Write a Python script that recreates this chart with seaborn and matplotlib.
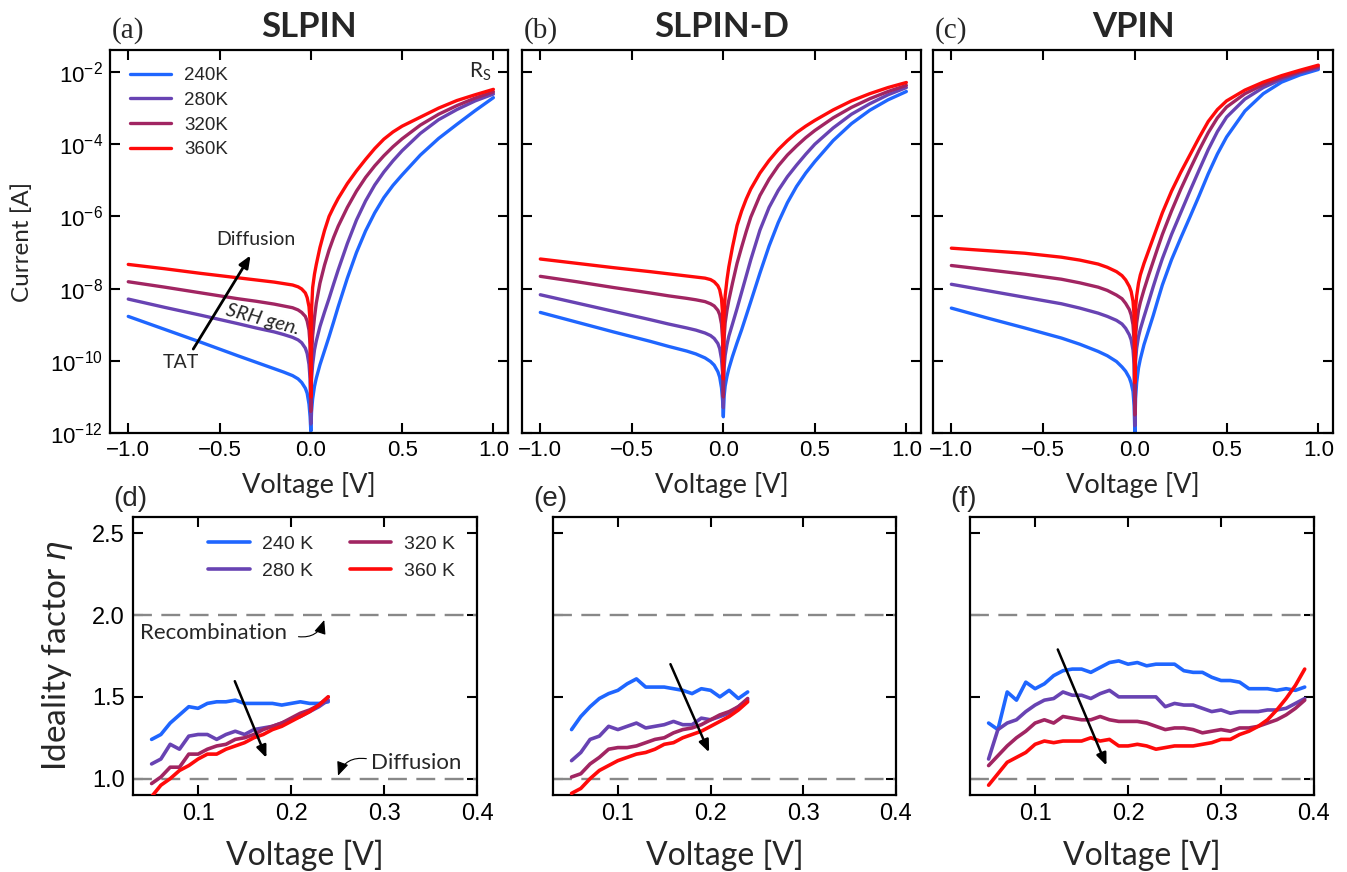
import numpy as np
import pandas as pd
import matplotlib
matplotlib.use("Agg")
import matplotlib.pyplot as plt
from matplotlib.ticker import FixedLocator, NullLocator
import seaborn as sns

# ---------------- data ----------------
TEMPS_IV = ["240K", "280K", "320K", "360K"]
TEMPS_ETA = ["240 K", "280 K", "320 K", "360 K"]
COLORS = ["#1f66ff", "#6843b3", "#a12562", "#ff0a0a"]
PANEL_TITLES = ["SLPIN", "SLPIN-D", "VPIN"]
IV_TAGS = ["(a)", "(b)", "(c)"]
ETA_TAGS = ["(d)", "(e)", "(f)"]

# voltage grid (V) of the read-off points, all I-V panels
V_IV = [-1.0, -0.8, -0.6, -0.4, -0.3, -0.2, -0.15, -0.1, -0.07, -0.05, -0.03, -0.02, -0.01, -0.004,
        0.0,
        0.004, 0.01, 0.02, 0.03, 0.05, 0.075, 0.1, 0.125, 0.15, 0.2, 0.25, 0.3, 0.35, 0.4, 0.45,
        0.5, 0.6, 0.7, 0.8, 0.9, 1.0]

# log10(|I| / A)
LOGI_A_240 = [-8.77, -9.13, -9.49, -9.86, -10.04, -10.22, -10.31, -10.41, -10.5, -10.6, -10.76, -10.9, -11.2, -11.55,
              -11.95,
              -11.4, -11.05, -10.71, -10.48, -10.11, -9.72, -9.33, -8.92, -8.5, -7.71, -7.0, -6.4, -5.9, -5.48, -5.14,
              -4.85, -4.3, -3.84, -3.45, -3.07, -2.71]
LOGI_A_280 = [-8.29, -8.52, -8.74, -8.97, -9.09, -9.2, -9.27, -9.35, -9.42, -9.5, -9.65, -9.8, -10.1, -10.5,
              -11.75,
              -10.5, -10.1, -9.7, -9.45, -9.05, -8.65, -8.27, -7.87, -7.48, -6.75, -6.1, -5.57, -5.13, -4.77, -4.46,
              -4.18, -3.7, -3.32, -3.04, -2.8, -2.61]
LOGI_A_320 = [-7.81, -7.96, -8.12, -8.28, -8.35, -8.43, -8.48, -8.53, -8.59, -8.66, -8.77, -8.9, -9.15, -9.55,
              -11.4,
              -9.85, -9.3, -8.8, -8.4, -7.85, -7.35, -6.93, -6.58, -6.27, -5.75, -5.3, -4.92, -4.6, -4.32, -4.07,
              -3.85, -3.47, -3.17, -2.93, -2.72, -2.55]
LOGI_A_360 = [-7.33, -7.45, -7.58, -7.7, -7.76, -7.82, -7.86, -7.9, -7.95, -8.01, -8.12, -8.25, -8.5, -8.9,
              -11.0,
              -8.6, -7.97, -7.6, -7.33, -6.86, -6.39, -6.0, -5.74, -5.5, -5.09, -4.74, -4.42, -4.12, -3.86, -3.66,
              -3.5, -3.25, -3.0, -2.79, -2.63, -2.48]

LOGI_B_240 = [-8.66, -8.93, -9.2, -9.46, -9.6, -9.73, -9.81, -9.92, -10.02, -10.12, -10.3, -10.45, -10.75, -11.1,
              -11.55,
              -11.0, -10.7, -10.43, -10.22, -9.88, -9.5, -9.14, -8.75, -8.36, -7.57, -6.82, -6.17, -5.62, -5.17, -4.8,
              -4.48, -3.9, -3.43, -3.06, -2.77, -2.54]
LOGI_B_280 = [-8.17, -8.4, -8.63, -8.86, -8.98, -9.09, -9.15, -9.23, -9.3, -9.38, -9.52, -9.66, -9.95, -10.35,
              -11.3,
              -10.2, -9.85, -9.55, -9.32, -8.98, -8.55, -8.1, -7.65, -7.2, -6.38, -5.75, -5.28, -4.9, -4.58, -4.28,
              -4.0, -3.55, -3.17, -2.88, -2.63, -2.43]
LOGI_B_320 = [-7.66, -7.81, -7.97, -8.12, -8.2, -8.27, -8.31, -8.36, -8.42, -8.48, -8.6, -8.72, -8.98, -9.4,
              -11.0,
              -9.4, -8.95, -8.6, -8.32, -7.85, -7.3, -6.85, -6.42, -6.02, -5.42, -4.97, -4.6, -4.3, -4.05, -3.82,
              -3.62, -3.27, -2.98, -2.74, -2.54, -2.37]
LOGI_B_360 = [-7.18, -7.3, -7.42, -7.53, -7.59, -7.65, -7.68, -7.71, -7.75, -7.81, -7.92, -8.03, -8.28, -8.7,
              -10.5,
              -8.75, -8.2, -7.75, -7.4, -6.85, -6.25, -5.85, -5.52, -5.24, -4.8, -4.45, -4.15, -3.9, -3.68, -3.5,
              -3.34, -3.05, -2.8, -2.6, -2.43, -2.29]

LOGI_C_240 = [-8.54, -8.82, -9.09, -9.37, -9.54, -9.74, -9.86, -10.02, -10.17, -10.29, -10.47, -10.62, -10.85, -11.25,
              -11.98,
              -11.05, -10.6, -10.2, -9.95, -9.55, -9.15, -8.75, -8.32, -7.9, -7.2, -6.6, -6.02, -5.43, -4.82, -4.27,
              -3.8, -3.08, -2.6, -2.28, -2.08, -1.93]
LOGI_C_280 = [-7.88, -8.06, -8.24, -8.42, -8.54, -8.68, -8.77, -8.88, -8.98, -9.1, -9.28, -9.42, -9.7, -10.1,
              -11.8,
              -10.0, -9.65, -9.33, -9.12, -8.78, -8.37, -7.95, -7.55, -7.17, -6.5, -5.9, -5.3, -4.72, -4.15, -3.65,
              -3.25, -2.75, -2.43, -2.2, -2.02, -1.89]
LOGI_C_320 = [-7.36, -7.48, -7.6, -7.74, -7.84, -7.96, -8.05, -8.18, -8.28, -8.41, -8.58, -8.73, -9.0, -9.45,
              -11.5,
              -9.33, -8.95, -8.6, -8.38, -8.03, -7.63, -7.25, -6.87, -6.5, -5.85, -5.25, -4.7, -4.17, -3.68, -3.27,
              -2.97, -2.6, -2.35, -2.15, -1.99, -1.85]
LOGI_C_360 = [-6.88, -6.95, -7.02, -7.13, -7.21, -7.32, -7.41, -7.53, -7.64, -7.76, -7.94, -8.08, -8.35, -8.75,
              -10.6,
              -8.55, -8.2, -7.85, -7.62, -7.3, -6.95, -6.6, -6.25, -5.9, -5.3, -4.78, -4.3, -3.82, -3.37, -3.04,
              -2.8, -2.5, -2.28, -2.1, -1.95, -1.81]

# ideality factor
V_DE = [0.05, 0.06, 0.07, 0.08, 0.09, 0.10, 0.11, 0.12, 0.13, 0.14,
        0.15, 0.16, 0.17, 0.18, 0.19, 0.20, 0.21, 0.22, 0.23, 0.24]
V_F = [0.05, 0.06, 0.07, 0.08, 0.09, 0.10, 0.11, 0.12, 0.13, 0.14, 0.15, 0.16,
       0.17, 0.18, 0.19, 0.20, 0.21, 0.22, 0.23, 0.24, 0.25, 0.26, 0.27, 0.28,
       0.29, 0.30, 0.31, 0.32, 0.33, 0.34, 0.35, 0.36, 0.37, 0.38, 0.39]

ETA_D_240 = [1.24, 1.27, 1.34, 1.39, 1.44, 1.43, 1.46, 1.47, 1.47, 1.48, 1.46, 1.46, 1.46, 1.46, 1.45, 1.46, 1.47, 1.46, 1.46, 1.47]
ETA_D_280 = [1.09, 1.12, 1.21, 1.18, 1.26, 1.27, 1.27, 1.24, 1.27, 1.29, 1.27, 1.30, 1.31, 1.32, 1.34, 1.36, 1.38, 1.41, 1.44, 1.48]
ETA_D_320 = [0.97, 1.01, 1.07, 1.07, 1.15, 1.15, 1.18, 1.20, 1.21, 1.24, 1.25, 1.27, 1.30, 1.32, 1.34, 1.37, 1.40, 1.42, 1.45, 1.50]
ETA_D_360 = [0.89, 0.96, 1.00, 1.05, 1.08, 1.12, 1.15, 1.15, 1.18, 1.20, 1.22, 1.25, 1.27, 1.30, 1.32, 1.35, 1.38, 1.41, 1.45, 1.50]

ETA_E_240 = [1.30, 1.38, 1.44, 1.49, 1.52, 1.54, 1.58, 1.61, 1.56, 1.56, 1.56, 1.55, 1.54, 1.52, 1.55, 1.54, 1.50, 1.54, 1.49, 1.53]
ETA_E_280 = [1.11, 1.16, 1.24, 1.26, 1.32, 1.30, 1.32, 1.34, 1.31, 1.32, 1.33, 1.35, 1.33, 1.33, 1.37, 1.36, 1.38, 1.40, 1.44, 1.48]
ETA_E_320 = [1.01, 1.03, 1.09, 1.13, 1.18, 1.19, 1.19, 1.20, 1.22, 1.24, 1.25, 1.28, 1.30, 1.31, 1.33, 1.36, 1.39, 1.41, 1.44, 1.49]
ETA_E_360 = [0.91, 0.94, 1.00, 1.05, 1.08, 1.11, 1.13, 1.15, 1.16, 1.18, 1.21, 1.22, 1.25, 1.27, 1.29, 1.32, 1.35, 1.38, 1.42, 1.47]

ETA_F_240 = [1.34, 1.30, 1.53, 1.48, 1.59, 1.55, 1.58, 1.63, 1.66, 1.67, 1.67, 1.65, 1.68, 1.71, 1.72, 1.70, 1.71,
             1.69, 1.70, 1.70, 1.70, 1.66, 1.65, 1.65, 1.62, 1.60, 1.60, 1.59, 1.55, 1.55, 1.55, 1.54, 1.55, 1.54, 1.56]
ETA_F_280 = [1.12, 1.30, 1.34, 1.36, 1.41, 1.45, 1.48, 1.49, 1.53, 1.51, 1.51, 1.49, 1.52, 1.54, 1.50, 1.50, 1.50,
             1.50, 1.50, 1.44, 1.46, 1.45, 1.45, 1.43, 1.41, 1.42, 1.40, 1.41, 1.41, 1.41, 1.42, 1.42, 1.43, 1.46, 1.49]
ETA_F_320 = [1.08, 1.14, 1.20, 1.25, 1.29, 1.34, 1.36, 1.34, 1.38, 1.37, 1.36, 1.36, 1.38, 1.36, 1.35, 1.35, 1.35,
             1.34, 1.32, 1.30, 1.31, 1.31, 1.30, 1.28, 1.29, 1.30, 1.29, 1.31, 1.31, 1.32, 1.34, 1.36, 1.39, 1.43, 1.48]
ETA_F_360 = [0.96, 1.03, 1.10, 1.13, 1.16, 1.21, 1.23, 1.22, 1.23, 1.23, 1.23, 1.25, 1.23, 1.24, 1.20, 1.20, 1.21,
             1.20, 1.18, 1.19, 1.20, 1.20, 1.20, 1.21, 1.22, 1.24, 1.24, 1.27, 1.29, 1.32, 1.36, 1.42, 1.49, 1.57, 1.67]

IV_SETS = [[LOGI_A_240, LOGI_A_280, LOGI_A_320, LOGI_A_360],
           [LOGI_B_240, LOGI_B_280, LOGI_B_320, LOGI_B_360],
           [LOGI_C_240, LOGI_C_280, LOGI_C_320, LOGI_C_360]]
ETA_SETS = [(V_DE, [ETA_D_240, ETA_D_280, ETA_D_320, ETA_D_360]),
            (V_DE, [ETA_E_240, ETA_E_280, ETA_E_320, ETA_E_360]),
            (V_F, [ETA_F_240, ETA_F_280, ETA_F_320, ETA_F_360])]

# ---------------- style ----------------
sns.set_theme(style="ticks")
plt.rcParams["font.family"] = ["Liberation Sans", "DejaVu Sans"]
plt.rcParams["mathtext.fontset"] = "custom"
plt.rcParams["mathtext.rm"] = "Liberation Sans"
plt.rcParams["mathtext.it"] = "Liberation Sans:italic"
plt.rcParams["mathtext.bf"] = "Liberation Sans:bold"
plt.rcParams["mathtext.default"] = "regular"
plt.rcParams["axes.linewidth"] = 1.6
plt.rcParams["axes.edgecolor"] = "black"
plt.rcParams["lines.solid_joinstyle"] = "round"

LABEL_FONT = "Lato"

fig = plt.figure(figsize=(13.47, 8.72), dpi=100)
W, H = 1347.0, 872.0


def px_axes(left, top, right, bottom):
    return fig.add_axes([left / W, 1 - bottom / H, (right - left) / W, (bottom - top) / H])


top_boxes = [(110, 50, 508, 433), (522, 50, 921, 433), (933, 50, 1333, 433)]
bot_boxes = [(133, 517, 477, 795), (553, 517, 896, 795), (970, 517, 1314, 795)]

top_axes = [px_axes(*b) for b in top_boxes]
bot_axes = [px_axes(*b) for b in bot_boxes]

# ---------------- I-V panels ----------------
for i, ax in enumerate(top_axes):
    curves = IV_SETS[i]
    frames = []
    for t, logs in zip(TEMPS_IV, curves):
        frames.append(pd.DataFrame({"V": V_IV, "I": np.power(10.0, logs), "T": t}))
    df = pd.concat(frames, ignore_index=True)
    ax.set_yscale("log")
    sns.lineplot(data=df, x="V", y="I", hue="T", hue_order=TEMPS_IV,
                 palette=dict(zip(TEMPS_IV, COLORS)), estimator=None, sort=False,
                 lw=2.4, legend=False, ax=ax)
    ax.set_xlim(-1.1, 1.08)
    ax.set_ylim(1e-12, 10 ** -1.39)
    ax.yaxis.set_major_locator(FixedLocator([10.0 ** k for k in (-12, -10, -8, -6, -4, -2)]))
    ax.yaxis.set_minor_locator(NullLocator())
    ax.xaxis.set_major_locator(FixedLocator([-1.0, -0.5, 0.0, 0.5, 1.0]))
    ax.tick_params(direction="in", top=True, right=True, length=7, width=1.5,
                   labelsize=16, pad=5, colors="black")
    ax.tick_params(which="minor", left=False, right=False)
    if i > 0:
        ax.tick_params(labelleft=False)
    ax.set_ylabel("")
    ax.set_xlabel("Voltage [V]", fontsize=19.5, family=LABEL_FONT)
    ax.xaxis.set_label_coords(0.5, -0.102)
    ax.text(0.5, 1.033, PANEL_TITLES[i], transform=ax.transAxes, ha="center", va="baseline",
            fontsize=25, fontweight="bold", family=LABEL_FONT)
    ax.text(0.005, 1.033, IV_TAGS[i], transform=ax.transAxes, ha="left", va="baseline",
            fontsize=21, family="Liberation Serif")
    for sp in ax.spines.values():
        sp.set_linewidth(1.6)
        sp.set_color("black")

ax = top_axes[0]
ax.set_ylabel("Current [A]", fontsize=17.5, family=LABEL_FONT)
ax.yaxis.set_label_coords(-0.1935, 0.5)
ax.legend(handles=ax.lines[:4], labels=TEMPS_IV, loc="upper left",
          bbox_to_anchor=(0.05, 0.955), frameon=False, fontsize=13.5,
          handlelength=2.2, handletextpad=0.7, labelspacing=0.4, borderpad=0,
          borderaxespad=0)
ax.annotate("", xy=(-0.33, 10 ** -7.08), xytext=(-0.644, 10 ** -9.675),
            arrowprops=dict(arrowstyle="-|>,head_length=0.6,head_width=0.25", color="black",
                            lw=2.0, shrinkA=0, shrinkB=0))
ax.text(-0.713, 10 ** -10.06, "TAT", ha="center", va="center", fontsize=14, family=LABEL_FONT)
ax.text(-0.303, 10 ** -6.64, "Diffusion", ha="center", va="center", fontsize=14, family=LABEL_FONT)
ax.text(-0.262, 10 ** -8.86, "SRH gen.", ha="center", va="center", fontsize=14.5, style="italic",
        rotation=-15, rotation_mode="anchor", family=LABEL_FONT)
ax.text(0.927, 10 ** -2.0, r"R$_\mathregular{S}$", ha="center", va="center", fontsize=15,
        family=LABEL_FONT)

# ---------------- ideality panels ----------------
for i, ax in enumerate(bot_axes):
    volts, curves = ETA_SETS[i]
    frames = []
    for t, vals in zip(TEMPS_ETA, curves):
        frames.append(pd.DataFrame({"V": volts, "eta": vals, "T": t}))
    df = pd.concat(frames, ignore_index=True)
    sns.lineplot(data=df, x="V", y="eta", hue="T", hue_order=TEMPS_ETA,
                 palette=dict(zip(TEMPS_ETA, COLORS)), estimator=None, sort=False,
                 lw=2.6, legend=False, ax=ax, zorder=3)
    for yv in (1.0, 2.0):
        ax.axhline(yv, color="#888888", lw=1.7, dashes=(8, 4), zorder=1)
    ax.set_xlim(0.03, 0.4)
    ax.set_ylim(0.9, 2.6)
    ax.xaxis.set_major_locator(FixedLocator([0.1, 0.2, 0.3, 0.4]))
    ax.yaxis.set_major_locator(FixedLocator([1.0, 1.5, 2.0, 2.5]))
    ax.tick_params(direction="in", top=True, right=True, length=7, width=1.5,
                   labelsize=17, pad=6, colors="black")
    if i > 0:
        ax.tick_params(labelleft=False)
    ax.set_ylabel("")
    ax.set_xlabel("Voltage [V]", fontsize=23, family=LABEL_FONT)
    ax.xaxis.set_label_coords(0.5, -0.162)
    ax.text(-0.058, 1.04, ETA_TAGS[i], transform=ax.transAxes, ha="left", va="baseline",
            fontsize=20)
    for sp in ax.spines.values():
        sp.set_linewidth(1.6)
        sp.set_color("black")

ax = bot_axes[0]
ax.set_ylabel(r"Ideality factor $\mathit{\eta}$", fontsize=24, family=LABEL_FONT)
ax.yaxis.set_label_coords(-0.1686, 0.5)
ax.legend(handles=ax.lines[:4], labels=TEMPS_ETA, loc="upper left", ncol=2,
          bbox_to_anchor=(0.218, 0.935), frameon=False, fontsize=14,
          handlelength=2.15, handletextpad=0.65, labelspacing=0.5, columnspacing=1.85,
          borderpad=0, borderaxespad=0)
ax.text(0.037, 1.892, "Recombination", ha="left", va="center", fontsize=16, family=LABEL_FONT)
ax.annotate("", xy=(0.2357, 1.97), xytext=(0.208, 1.868),
            arrowprops=dict(arrowstyle="-|>,head_length=0.7,head_width=0.3", color="black",
                            lw=0.8, connectionstyle="arc3,rad=0.4", shrinkA=0, shrinkB=0))
ax.text(0.2865, 1.094, "Diffusion", ha="left", va="center", fontsize=16, family=LABEL_FONT)
ax.annotate("", xy=(0.2505, 1.018), xytext=(0.281, 1.122),
            arrowprops=dict(arrowstyle="-|>,head_length=0.7,head_width=0.3", color="black",
                            lw=0.8, connectionstyle="arc3,rad=0.4", shrinkA=0, shrinkB=0))

ARROWS = [((0.1395, 1.596), (0.1735, 1.127)),
          ((0.1567, 1.70), (0.1984, 1.161)),
          ((0.1244, 1.79), (0.1768, 1.08))]
for ax, (tail, head) in zip(bot_axes, ARROWS):
    ax.annotate("", xy=head, xytext=tail,
                arrowprops=dict(arrowstyle="-|>,head_length=0.6,head_width=0.25", color="black",
                                lw=1.8, shrinkA=0, shrinkB=0), zorder=5)

fig.savefig("out.png", dpi=100)
